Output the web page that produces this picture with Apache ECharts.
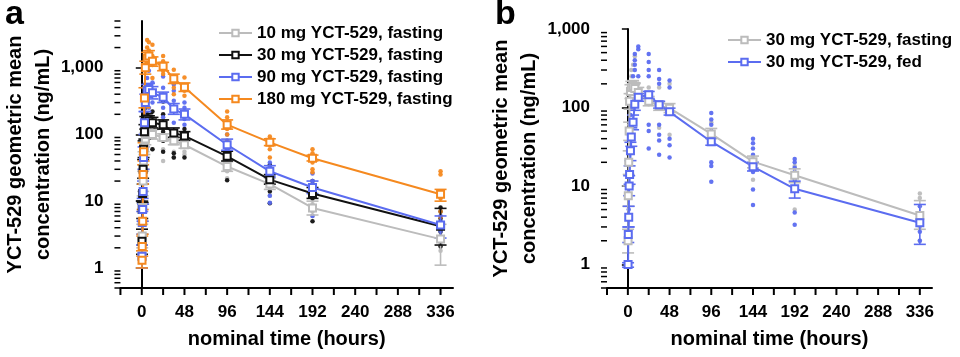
<!DOCTYPE html>
<html><head><meta charset="utf-8">
<script src="https://cdn.jsdelivr.net/npm/echarts@6/dist/echarts.min.js"></script>
<style>html,body{margin:0;padding:0;background:#fff}#c{width:960px;height:357px}</style>
</head><body><div id="c"></div><script>
// ---------- data ----------
const times = [0.25, 0.5, 1, 1.5, 2, 3, 4, 6, 8, 12, 24, 36, 48, 96, 144, 192, 336];
const xTicks = [-24, 0, 24, 48, 72, 96, 120, 144, 168, 192, 216, 240, 264, 288, 312, 336];
const minorTicksA = [0.5,0.6,0.7,0.8,0.9,2,3,4,5,6,7,8,9,20,30,40,50,60,70,80,90,200,300,400,500,600,700,800,900,2000,3000,4000,5000];
const minorTicksB = [0.5,0.6,0.7,0.8,0.9,2,3,4,5,6,7,8,9,20,30,40,50,60,70,80,90,200,300,400,500,600,700,800,900];

// panel a: geometric means
const a10  = [1.5, 3, 8, 20, 40, 65, 85, 100, 105, 100, 90, 80, 70, 33, 18, 7.9, 2.7];
const a30  = [2.5, 7.5, 13, 30, 60, 110, 150, 170, 160, 150, 140, 105, 95, 47, 21, 13, 4.2];
const a90  = [1.5, 4.8, 7.5, 14, 45, 150, 300, 450, 470, 420, 360, 240, 200, 70, 28, 16, 4.4];
const a180 = [1.3, 2.1, 5, 25, 55, 350, 1000, 1400, 1500, 1250, 1050, 680, 510, 140, 76, 44, 12.7];
// panel a: error bar limits
const a10Lo  = [1.0, 2.0, 5, 14, 30, 50, 70, 85, 90, 85, 80, 70, 62, 28, 15, 6.2, 1.1];
const a10Hi  = [2.2, 4.5, 12, 28, 55, 85, 105, 120, 122, 118, 102, 92, 80, 39, 22, 10, 4.5];
const a30Lo  = [1.6, 5.5, 9.5, 22, 45, 85, 120, 140, 135, 125, 120, 90, 82, 40, 18, 11, 2.2];
const a30Hi  = [3.8, 10, 18, 42, 80, 140, 185, 205, 190, 180, 165, 125, 110, 56, 25, 16, 7.8];
const a90Lo  = [1.0, 3.2, 5, 9, 30, 100, 220, 360, 380, 340, 300, 200, 165, 58, 23, 13, 2.8];
const a90Hi  = [2.2, 7, 11, 20, 65, 220, 400, 560, 580, 520, 430, 290, 240, 85, 34, 20, 6];
const a180Lo = [1.0, 1.5, 3.2, 18, 40, 250, 800, 1150, 1250, 1050, 900, 580, 440, 120, 68, 40, 10];
const a180Hi = [1.8, 3, 7.5, 35, 75, 500, 1250, 1700, 1800, 1450, 1200, 800, 590, 165, 86, 49, 15];
// panel a: individual values [time, conc]
const dots10 = [[1,5],[2,10],[3,20],[4,40],[4,60],[6,70],[6,90],[8,120],[8,150],[12,60],[12,90],[24,120],[24,100],[24,80],[24,60],[24,40],[36,110],[36,80],[36,55],[36,45],[48,90],[48,75],[48,55],[48,50],[96,45],[96,35],[96,28],[96,22],[144,25],[144,20],[144,15],[144,12],[192,12],[192,9],[192,7],[192,6],[336,5],[336,3.5],[336,2.3],[336,1.8]];
const dots30 = [[0.5,8],[1,13],[2,35],[2,60],[3,50],[3,90],[4,120],[4,250],[6,150],[6,200],[6,300],[8,90],[8,130],[12,60],[12,220],[24,310],[24,200],[24,150],[24,110],[24,80],[24,55],[36,100],[36,80],[36,52],[36,45],[48,120],[48,90],[48,70],[48,45],[96,60],[96,50],[96,40],[96,30],[96,20.6],[144,35],[144,25],[144,18],[144,14],[144,9.3],[192,20],[192,15],[192,11],[192,8],[192,5],[336,8],[336,7],[336,5.5],[336,3.5],[336,2.1]];
const dots90 = [[1,10],[1.5,20],[2,30],[2,60],[3,100],[3,150],[4,200],[4,300],[6,400],[6,500],[6,700],[8,900],[8,250],[12,300],[12,600],[24,740],[24,500],[24,350],[24,250],[24,180],[36,560],[36,450],[36,320],[36,250],[36,150],[36,110],[48,300],[48,250],[48,170],[48,140],[96,100],[96,80],[96,60],[96,50],[96,40],[144,38],[144,33],[144,25],[144,18],[144,12],[144,9.5],[192,26],[192,20],[192,15],[192,12],[192,8],[192,6],[336,6],[336,5],[336,4],[336,3.5],[336,2.5]];
const dots180 = [[0.5,2],[1,5],[1.5,25],[2,50],[3,300],[3,500],[4,900],[4,1300],[6,1600],[6,2000],[6,2600],[8,2400],[8,1800],[8,1200],[12,2200],[12,1500],[12,1100],[12,700],[24,1500],[24,1250],[24,1000],[24,900],[24,800],[36,930],[36,700],[36,600],[36,500],[36,400],[48,710],[48,550],[48,450],[48,380],[96,220],[96,180],[96,150],[96,120],[96,100],[96,80],[144,93],[144,85],[144,70],[144,60],[144,45],[192,60],[192,52],[192,45],[192,38],[192,30],[192,27],[336,28],[336,25],[336,14],[336,11],[336,7],[336,5.8]];

// panel b: geometric means
const bFast = [2, 7.5, 20, 50, 120, 160, 180, 185, 175, 155, 120, 105, 98, 46, 20.4, 13.7, 4.2];
const bFed  = [1, 2.4, 4, 10, 14, 28, 42, 65, 110, 135, 145, 108, 88, 36.6, 17.6, 9.2, 3.4];
const bFastLo = [1.4, 5.5, 14, 38, 95, 130, 150, 155, 150, 130, 105, 92, 86, 40, 17, 11, 2.8];
const bFastHi = [2.8, 10, 28, 65, 150, 195, 215, 220, 205, 180, 138, 118, 112, 54, 24, 16.5, 6.5];
const bFedLo  = [0.92, 1.9, 3, 7.5, 10.5, 21, 32, 52, 92, 120, 130, 98, 80, 33, 15.5, 7, 1.8];
const bFedHi  = [1.05, 3, 5.5, 13.5, 18, 36, 55, 80, 130, 150, 160, 120, 98, 41, 20, 11.5, 5.8];
const dotsFast = [[0.5,10],[1,45],[1.5,60],[2,110],[2,130],[3,200],[4,250],[4,300],[6,350],[8,450],[12,200],[24,180],[24,110],[36,180],[36,55],[48,200],[48,45],[96,65],[96,40],[144,22],[144,12],[192,18],[192,5],[336,8],[336,7],[336,3],[336,2]];
const dotsFed = [[0.5,2.2],[0.5,2.5],[1,5],[1,10],[1.5,14],[1.5,20],[2,30],[2,45],[3,60],[3,80],[4,100],[4,120],[6,150],[6,200],[6,250],[8,300],[8,350],[8,400],[8,480],[12,550],[12,600],[12,250],[24,480],[24,380],[24,300],[24,250],[24,150],[24,60],[24,50],[24,30],[36,300],[36,230],[36,200],[36,60],[36,45],[36,38],[36,25],[48,220],[48,180],[48,85],[48,40],[48,33],[48,23],[96,85],[96,70],[96,60],[96,50],[96,20],[96,18],[96,11.3],[144,40],[144,35],[144,30],[144,25],[144,15],[144,9],[144,5.7],[192,22],[192,20],[192,17],[192,15],[192,12],[192,4.6],[192,3.2],[336,5.5],[336,4.5],[336,3.2],[336,2.6],[336,2]];

const namesA = ['10 mg YCT-529, fasting','30 mg YCT-529, fasting','90 mg YCT-529, fasting','180 mg YCT-529, fasting'];
const namesB = ['30 mg YCT-529, fasting','30 mg YCT-529, fed'];

// ---------- styling ----------
const GREY = '#bcbcbc', BLACK = '#111111', BLUE = '#5b6cf0', ORANGE = '#f5891f';
const FONT = '"Liberation Sans", Arial, sans-serif';
const X_MIN = -24, X_MAX = 350;

const zip = (t, v) => t.map((x, i) => [x, v[i]]);
const zip3 = (t, lo, hi) => t.map((x, i) => [x, lo[i], hi[i]]);

function errRender(color) {
  return function (params, api) {
    const x = api.value(0), lo = api.value(1), hi = api.value(2);
    const pl = api.coord([x, lo]), ph = api.coord([x, hi]);
    const w = 6, st = {stroke: color, lineWidth: 1.6};
    return {type: 'group', children: [
      {type: 'line', shape: {x1: pl[0], y1: pl[1], x2: ph[0], y2: ph[1]}, style: st},
      {type: 'line', shape: {x1: pl[0]-w, y1: pl[1], x2: pl[0]+w, y2: pl[1]}, style: st},
      {type: 'line', shape: {x1: ph[0]-w, y1: ph[1], x2: ph[0]+w, y2: ph[1]}, style: st}
    ]};
  };
}
function yTickRender(params, api) {
  const p = api.coord([api.value(0), api.value(1)]);
  return {type: 'line', shape: {x1: p[0]-6, y1: p[1], x2: p[0], y2: p[1]}, style: {stroke: '#000', lineWidth: 1.5}};
}
function xTickRender(params, api) {
  const p = api.coord([api.value(0), api.value(1)]);
  return {type: 'line', shape: {x1: p[0], y1: p[1], x2: p[0], y2: p[1]+7}, style: {stroke: '#000', lineWidth: 2}};
}

function lineS(id, name, data, color, gi) {
  return {type: 'line', id, name, xAxisIndex: gi, yAxisIndex: gi, data, z: 5,
    symbol: 'emptyRect', symbolSize: 7, showAllSymbol: true,
    itemStyle: {color, borderWidth: 1.5}, lineStyle: {color, width: 2}, animation: false};
}
function dotS(data, color, gi) {
  return {type: 'scatter', xAxisIndex: gi, yAxisIndex: gi, data, symbolSize: 4.5, z: 2,
    itemStyle: {color, opacity: 0.95}, animation: false, silent: true};
}
function errS(data, color, gi) {
  return {type: 'custom', xAxisIndex: gi, yAxisIndex: gi, data, renderItem: errRender(color), z: 3, animation: false, silent: true};
}
function tickS(data, fn, gi) {
  return {type: 'custom', xAxisIndex: gi, yAxisIndex: gi, data, renderItem: fn, clip: false, z: 6, animation: false, silent: true};
}

const labelFmt = v => (Math.round(v)).toLocaleString('en-US');
function xAxis(gi) {
  return {type: 'value', gridIndex: gi, min: X_MIN, max: X_MAX, interval: 24,
    axisLine: {lineStyle: {color: '#000', width: 2}}, axisTick: {show: false}, splitLine: {show: false},
    axisLabel: {color: '#000', fontFamily: FONT, fontWeight: 'bold', fontSize: 17, margin: 16,
      showMinLabel: false, showMaxLabel: false,
      formatter: v => (v >= 0 && v % 48 === 0) ? String(v) : ''},
    name: 'nominal time (hours)', nameLocation: 'middle', nameGap: 41,
    nameTextStyle: {color: '#000', fontFamily: FONT, fontWeight: 'bold', fontSize: 20}};
}
function yAxis(gi, max, showMax) {
  return {type: 'log', gridIndex: gi, logBase: 10, min: 0.5, max,
    axisLine: {show: true, lineStyle: {color: '#000', width: 2}},
    axisTick: {show: true, length: 6, lineStyle: {color: '#000', width: 1.5}}, splitLine: {show: false},
    axisLabel: {color: '#000', fontFamily: FONT, fontWeight: 'bold', fontSize: 17, margin: 17,
      showMinLabel: false, showMaxLabel: showMax, formatter: labelFmt},
    name: 'YCT-529 geometric mean\nconcentration (ng/mL)', nameLocation: 'middle', nameGap: 55, nameRotate: 90,
    nameTextStyle: {color: '#000', fontFamily: FONT, fontWeight: 'bold', fontSize: 20, lineHeight: 28}};
}
function legend(left, top, names, ids) {
  return {left, top, padding: 0, orient: 'vertical', data: ids, itemWidth: 33, itemHeight: 8, itemGap: 4,
    formatter: n => names[ids.indexOf(n)],
    textStyle: {color: '#000', fontFamily: FONT, fontWeight: 'bold', fontSize: 17, lineHeight: 18}};
}

const option = {
  backgroundColor: '#fff',
  animation: false,
  title: [
    {text: 'a', left: 0, top: -7, textStyle: {fontFamily: FONT, fontWeight: 'bold', fontSize: 34, color: '#000'}},
    {text: 'b', left: 490, top: -7, textStyle: {fontFamily: FONT, fontWeight: 'bold', fontSize: 34, color: '#000'}}
  ],
  grid: [
    {left: 118, right: 507, top: 21, bottom: 69},
    {left: 607, right: 28, top: 29, bottom: 69}
  ],
  xAxis: [xAxis(0), xAxis(1)],
  yAxis: [yAxis(0, 5000, false), yAxis(1, 1000, true)],
  legend: [
    legend(218, 24, namesA, ['a10','a30','a90','a180']),
    legend(727, 31, namesB, ['bFast','bFed'])
  ],
  series: [
    dotS(dots10, GREY, 0), dotS(dots30, BLACK, 0), dotS(dots90, BLUE, 0), dotS(dots180, ORANGE, 0),
    errS(zip3(times, a10Lo, a10Hi), GREY, 0), errS(zip3(times, a30Lo, a30Hi), BLACK, 0),
    errS(zip3(times, a90Lo, a90Hi), BLUE, 0), errS(zip3(times, a180Lo, a180Hi), ORANGE, 0),
    lineS('a10', 'a10', zip(times, a10), GREY, 0),
    lineS('a30', 'a30', zip(times, a30), BLACK, 0),
    lineS('a90', 'a90', zip(times, a90), BLUE, 0),
    lineS('a180', 'a180', zip(times, a180), ORANGE, 0),
    dotS(dotsFast, GREY, 1), dotS(dotsFed, BLUE, 1),
    errS(zip3(times, bFastLo, bFastHi), GREY, 1), errS(zip3(times, bFedLo, bFedHi), BLUE, 1),
    lineS('bFast', 'bFast', zip(times, bFast), GREY, 1),
    lineS('bFed', 'bFed', zip(times, bFed), BLUE, 1),
    tickS(minorTicksA.map(v => [X_MIN, v]), yTickRender, 0),
    tickS(minorTicksB.map(v => [X_MIN, v]), yTickRender, 1),
    tickS(xTicks.map(t => [t, 0.5]), xTickRender, 0),
    tickS(xTicks.map(t => [t, 0.5]), xTickRender, 1)
  ]
};
const chart = echarts.init(document.getElementById('c'), null, {renderer: 'canvas'});
chart.setOption(option);
</script></body></html>
